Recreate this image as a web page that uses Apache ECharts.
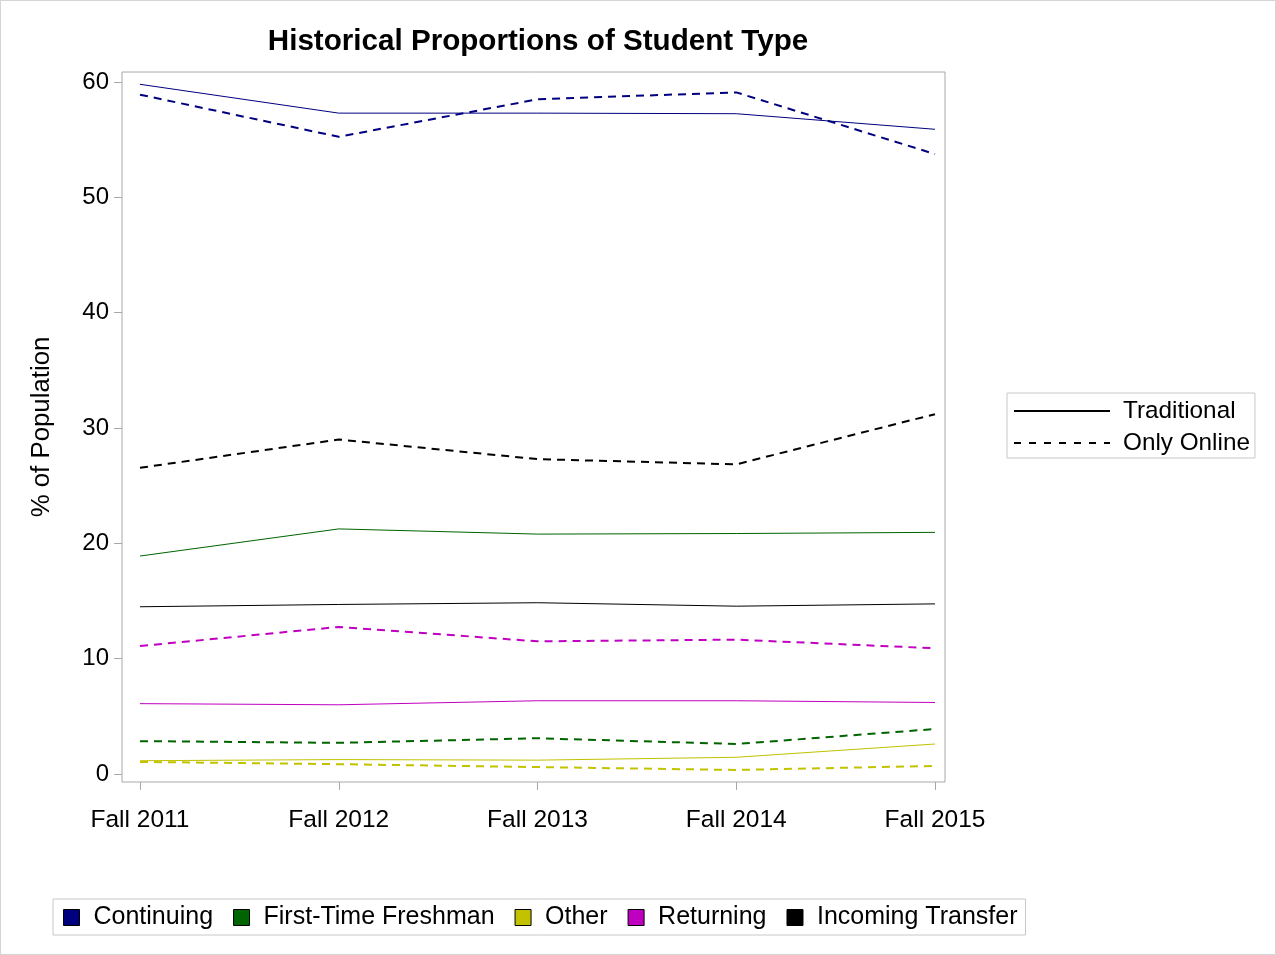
<!DOCTYPE html>
<html>
<head>
<meta charset="utf-8">
<script src="https://cdn.jsdelivr.net/npm/echarts@6/dist/echarts.min.js"></script>
<style>
html,body{margin:0;padding:0;background:#fff;}
#chart{width:1276px;height:955px;box-sizing:border-box;border:1px solid #d4d4d4;}
</style>
</head>
<body>
<div id="chart"></div>
<script>
const categories = ['Fall 2011', 'Fall 2012', 'Fall 2013', 'Fall 2014', 'Fall 2015'];
const yTicks = [0, 10, 20, 30, 40, 50, 60];
const studentTypes = ['Continuing', 'First-Time Freshman', 'Other', 'Returning', 'Incoming Transfer'];
const typeColors = ['#00007f', '#006400', '#c2c200', '#c000c0', '#000000'];

const continuingTrad = [59.8, 57.3, 57.3, 57.25, 55.9];
const continuingOnline = [58.9, 55.25, 58.5, 59.1, 53.75];
const freshmanTrad = [18.9, 21.25, 20.8, 20.85, 20.95];
const freshmanOnline = [2.85, 2.7, 3.1, 2.6, 3.9];
const otherTrad = [1.15, 1.25, 1.2, 1.45, 2.6];
const otherOnline = [1.05, 0.85, 0.6, 0.35, 0.7];
const returningTrad = [6.1, 6.0, 6.35, 6.35, 6.2];
const returningOnline = [11.1, 12.75, 11.5, 11.65, 10.9];
const transferTrad = [14.5, 14.7, 14.85, 14.55, 14.75];
const transferOnline = [26.55, 29.0, 27.3, 26.85, 31.2];

const tradValues = [continuingTrad, freshmanTrad, otherTrad, returningTrad, transferTrad];
const onlineValues = [continuingOnline, freshmanOnline, otherOnline, returningOnline, transferOnline];

const FONT = '"Liberation Sans", Arial, sans-serif';
const toPairs = arr => arr.map((v, i) => [i, v]);

const series = [];
studentTypes.forEach((name, k) => {
  series.push({
    name: name, type: 'line', symbol: 'none', color: typeColors[k],
    lineStyle: { width: 1, type: 'solid' },
    data: toPairs(tradValues[k]), animation: false
  });
});
studentTypes.forEach((name, k) => {
  series.push({
    name: name, type: 'line', symbol: 'none', color: typeColors[k],
    lineStyle: { width: 2, type: [8, 6] },
    data: toPairs(onlineValues[k]), animation: false
  });
});
series.push({ name: 'Traditional', type: 'line', symbol: 'none', color: '#000', lineStyle: { width: 2, type: 'solid' }, data: [] });
series.push({ name: 'Only Online', type: 'line', symbol: 'none', color: '#000', lineStyle: { width: 2, type: [7, 8] }, data: [] });

const chart = echarts.init(document.getElementById('chart'), null, { renderer: 'canvas' });
chart.setOption({
  animation: false,
  backgroundColor: '#fff',
  title: {
    text: 'Historical Proportions of Student Type',
    left: 532, top: 21, textAlign: 'center',
    textStyle: { fontFamily: FONT, fontSize: 29.6, fontWeight: 'bold', color: '#000' }
  },
  grid: {
    left: 121, top: 71, width: 823, height: 710,
    show: true, borderColor: '#a8a8a8', borderWidth: 1, backgroundColor: 'transparent'
  },
  xAxis: {
    type: 'value', min: -0.0906, max: 4.0503,
    splitLine: { show: false },
    axisLine: { show: false, onZero: false },
    axisTick: { show: true, length: 8, lineStyle: { color: '#a8a8a8' }, customValues: [0, 1, 2, 3, 4] },
    axisLabel: {
      customValues: [0, 1, 2, 3, 4], margin: 26,
      formatter: v => categories[Math.round(v)],
      fontFamily: FONT, fontSize: 24.5, color: '#000'
    }
  },
  yAxis: {
    type: 'value', min: -0.694, max: 60.867,
    name: '% of Population', nameLocation: 'middle', nameGap: 67, nameRotate: 90,
    nameTextStyle: { fontFamily: FONT, fontSize: 25.8, color: '#000' },
    splitLine: { show: false },
    axisLine: { show: false, onZero: false },
    axisTick: { show: true, length: 8, lineStyle: { color: '#a8a8a8' }, customValues: yTicks },
    axisLabel: { customValues: yTicks, margin: 13, fontFamily: FONT, fontSize: 24, color: '#000' }
  },
  legend: [
    {
      data: ['Traditional', 'Only Online'],
      orient: 'vertical', left: 1006, top: 392,
      itemWidth: 96, itemHeight: 14, itemGap: 8,
      padding: [6, 5, 3, 6],
      borderColor: '#c8c8c8', borderWidth: 1,
      selectedMode: false,
      itemStyle: { color: 'transparent', borderColor: 'transparent', borderWidth: 0 },
      textStyle: { fontFamily: FONT, fontSize: 24.3, color: '#000', padding: [0, 0, 0, 8] }
    },
    {
      data: studentTypes,
      orient: 'horizontal', left: 52, top: 898,
      icon: 'rect', itemWidth: 16, itemHeight: 16, itemGap: 20,
      padding: [6, 8, 5, 10],
      borderColor: '#c8c8c8', borderWidth: 1,
      selectedMode: false,
      itemStyle: { borderColor: '#000', borderWidth: 1, borderType: 'solid' },
      textStyle: { fontFamily: FONT, fontSize: 25, color: '#000', padding: [0, 0, 0, 9] }
    }
  ],
  series: series
});
</script>
</body>
</html>
